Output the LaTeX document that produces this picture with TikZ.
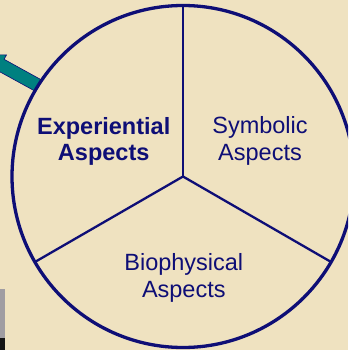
\documentclass[tikz,border=0pt]{standalone}
\usepackage{fontspec}
\setmainfont{Liberation Sans}
\definecolor{parchment}{RGB}{239,226,192}
\definecolor{wheelblue}{RGB}{14,14,118}
\definecolor{arrowteal}{RGB}{0,128,128}
\definecolor{slidegrey}{RGB}{160,157,162}
\tikzset{
  wheel/.style={circle, draw=wheelblue, line width=3.3pt, minimum size=342pt, inner sep=0pt, outer sep=0pt},
  spoke/.style={draw=wheelblue, line width=2.3pt},
  aspect/.style={text=wheelblue, align=center, anchor=base, font=\fontsize{23.5}{26.5}\selectfont},
  aspectbold/.style={aspect, font=\fontsize{23.5}{26.5}\selectfont\bfseries},
}
\begin{document}
\begin{tikzpicture}[x=1pt,y=-1pt]
    % background
    \useasboundingbox (0,0) rectangle (348,350);
    \clip (0,0) rectangle (348,350);
    \fill[parchment] (0,0) rectangle (348,350);
    % slide edge
    \fill[slidegrey] (0,289) rectangle (4.7,338);
    \fill[black!92] (0,338) rectangle (4.7,350);
    % teal arrow
    \filldraw[fill=arrowteal, draw=wheelblue, line width=0.6pt] (35.5,91.4) -- (41.8,80.1) -- (4.1,59.3) -- (6.5,55) -- (-18.3,54.4) -- (-4.6,75.1) -- (-2.2,70.7) -- cycle;
    % wheel and spokes
    \node[wheel] (wheel) at (183,176.5) {};
    \draw[spoke] (wheel.center) -- (wheel.north);
    \draw[spoke] (wheel.center) -- (wheel.210);
    \draw[spoke] (wheel.center) -- (wheel.-30);
    % labels (base = last line)
    \node[aspectbold] (exper) at (103.7,160.5) {Experiential\\Aspects};
    \node[aspect] (symb) at (260,160) {Symbolic\\Aspects};
    \node[aspect] (bio) at (183.8,297) {Biophysical\\Aspects};
\end{tikzpicture}
\end{document}
